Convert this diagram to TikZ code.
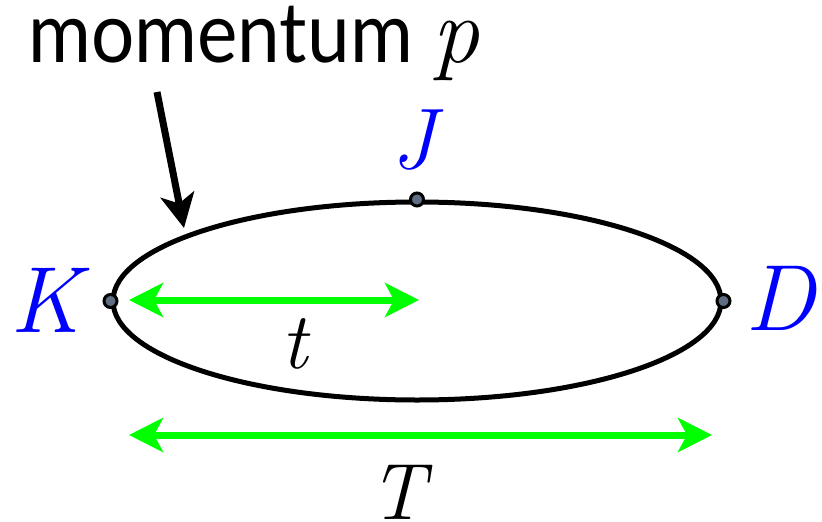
\documentclass[tikz,border=0pt]{standalone}
\usepackage{fontspec}
\newfontfamily\titlesans{Lato}
\usetikzlibrary{arrows.meta,shapes.geometric}
\definecolor{grn}{RGB}{0,255,0}
\definecolor{lblue}{RGB}{0,0,255}
\definecolor{dotgrey}{RGB}{95,110,130}
\tikzset{
  dotmark/.style={circle, draw=black, line width=3pt, fill=dotgrey, minimum size=13pt, inner sep=0pt},
  lbl/.style={anchor=base, inner sep=0pt, text=lblue, font=\rmfamily\itshape\fontsize{94}{94}\selectfont},
  meas/.style={anchor=base, inner sep=0pt, text=black, font=\rmfamily\itshape\fontsize{80}{80}\selectfont},
  garrow/.style={draw=grn, line width=7pt, {Stealth[length=34pt,width=34pt,inset=9pt]}-{Stealth[length=34pt,width=34pt,inset=9pt]}},
  barrow/.style={draw=black, line width=7pt, -{Stealth[length=34pt,width=34pt,inset=9pt]}}
}
\begin{document}
\begin{tikzpicture}[x=1pt,y=-1pt]
\useasboundingbox (0,0) rectangle (822,522);
\node[anchor=base west, inner sep=0pt, font=\titlesans\fontsize{84}{84}\selectfont] (title) at (28,62) {\scalebox{0.91}[1]{momentum}};
\node[anchor=base west, inner sep=0pt, font=\rmfamily\itshape\fontsize{94}{94}\selectfont] (pmom) at (432,62) {p};
\node[ellipse, draw=black, line width=5pt, minimum width=608pt, minimum height=198pt, inner sep=0pt] (loop) at (417,301) {};
\node[dotmark] (k) at (loop.west) {};
\node[dotmark] (j) at (loop.north) {};
\node[dotmark] (d) at (loop.east) {};
\node[lbl] (kl) at (46,332) {K};
\node[lbl, font=\rmfamily\itshape\fontsize{86}{86}\selectfont] (jl) at (414,168) {J};
\node[lbl] (dl) at (780,330) {D};
\coordinate (tl) at (129,300);
\coordinate (tr) at (419,300);
\coordinate (Tl) at (129,435);
\coordinate (Tr) at (712,435);
\draw[garrow] (tl) -- (tr);
\draw[garrow] (Tl) -- (Tr);
\node[meas] (tlab) at (294,368) {t};
\node[meas] (Tlab) at (397,519) {T};
\coordinate (as) at (157,92);
\coordinate (ae) at (184,228);
\draw[barrow] (as) -- (ae);
\end{tikzpicture}
\end{document}
